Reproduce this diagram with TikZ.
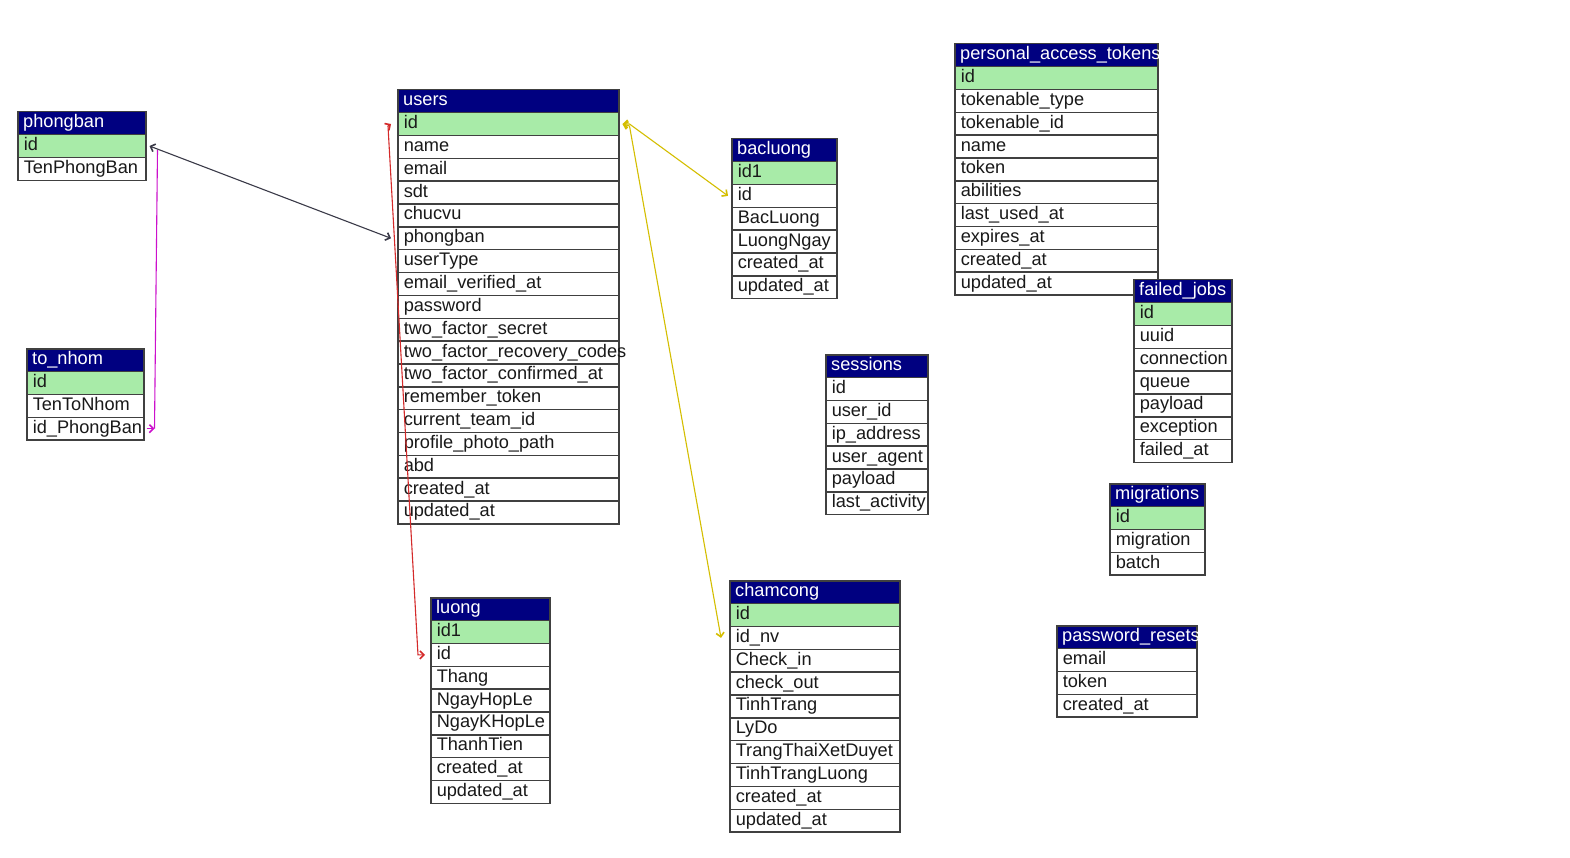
\documentclass[tikz,border=0pt]{standalone}
\usepackage{fontspec}
\setmainfont{Liberation Sans}
\usetikzlibrary{arrows.meta}
\definecolor{navyhdr}{HTML}{000080}
\definecolor{keygreen}{HTML}{A8EBA8}
\definecolor{linkyellow}{HTML}{D4BE00}
\definecolor{linkred}{HTML}{D42A2A}
\definecolor{linkmag}{HTML}{CC10CC}
\definecolor{linkdark}{HTML}{3A3A48}
\tikzset{
  hdrbox/.style={draw=black!75, line width=1.5pt, fill=navyhdr, rectangle, inner sep=0pt, minimum height=22.85pt},
  hdrtext/.style={text=white, inner xsep=6pt, inner ysep=0pt, font=\fontsize{18.2}{21}\selectfont, text height=12.5pt, text depth=3.5pt},
  rowbox/.style={draw=black!75, line width=1.5pt, rectangle, inner xsep=6pt, inner ysep=0pt, minimum height=22.85pt, align=left, font=\fontsize{18.2}{21}\selectfont, text height=12.5pt, text depth=3.5pt, text=black!90},
  tipend/.tip={Straight Barb[length=4pt,width=8pt,line width=1.6pt]},
  link/.style={line width=1.1pt, tipend-tipend},
  linkone/.style={line width=1.1pt, -tipend},
}
\newcommand\dbtable[7]{%
  \node[hdrbox, minimum width=#5pt, anchor=north west] (#1) at (#3,#4) {};
  \begin{scope}
    \clip (#1.south west) rectangle (#1.north east);
    \node[hdrtext, anchor=west] (#1-title) at (#1.west) {#2};
  \end{scope}
  \foreach \rw [count=\i] in {#7} {
    \ifnum\i>#6 \def\fc{white}\else\def\fc{keygreen}\fi
    \node[rowbox, fill=\fc, text width=#5pt-12pt, anchor=north west] (#1-\i) at (#3,{#4+\i*22.85}) {\rw};
  }
}
\begin{document}
\begin{tikzpicture}[x=1pt,y=-1pt]
\useasboundingbox[fill=white] (0,0) rectangle (1570,858);

\dbtable{phongban}{phongban}{17}{111}{128}{1}{id,TenPhongBan}
\dbtable{users}{users}{397}{89}{221}{1}{id,name,email,sdt,chucvu,phongban,userType,email\_verified\_at,password,two\_factor\_secret,two\_factor\_recovery\_codes,two\_factor\_confirmed\_at,remember\_token,current\_team\_id,profile\_photo\_path,abd,created\_at,updated\_at}
\dbtable{tonhom}{to\_nhom}{26}{348}{117}{1}{id,TenToNhom,id\_PhongBan}
\dbtable{bacluong}{bacluong}{731}{138}{105}{1}{id1,id,BacLuong,LuongNgay,created\_at,updated\_at}
\dbtable{pat}{personal\_access\_tokens}{954}{43}{203}{1}{id,tokenable\_type,tokenable\_id,name,token,abilities,last\_used\_at,expires\_at,created\_at,updated\_at}
\dbtable{failedjobs}{failed\_jobs}{1133}{279}{98}{1}{id,uuid,connection,queue,payload,exception,failed\_at}
\dbtable{sessions}{sessions}{825}{354}{102}{0}{id,user\_id,ip\_address,user\_agent,payload,last\_activity}
\dbtable{migrations}{migrations}{1109}{483}{95}{1}{id,migration,batch}
\dbtable{pwresets}{password\_resets}{1056}{625}{140}{0}{email,token,created\_at}
\dbtable{luong}{luong}{430}{597}{119}{1}{id1,id,Thang,NgayHopLe,NgayKHopLe,ThanhTien,created\_at,updated\_at}
\dbtable{chamcong}{chamcong}{729}{580}{170}{1}{id,id\_nv,Check\_in,check\_out,TinhTrang,LyDo,TrangThaiXetDuyet,TinhTrangLuong,created\_at,updated\_at}

% connectors
\draw[link, linkdark] ([xshift=3pt]phongban-1.east) -- ([xshift=-6pt]users-6.west);
\draw[linkmag, line width=1.1pt] ([xshift=11pt,yshift=-4pt]phongban-1.east) -- ([xshift=10pt]tonhom-3.east);
\draw[linkone, linkmag] ([xshift=2pt]tonhom-3.east) -- ([xshift=10pt]tonhom-3.east);
\draw[link, linkred] ([xshift=-6pt]users-1.west) -- ([xshift=-9pt,yshift=-2pt]users-1.west) -- ([xshift=-12pt]luong-2.west) -- ([xshift=-5pt]luong-2.west);
\draw[link, linkyellow] ([xshift=3pt]users-1.east) -- ([xshift=10pt]users-1.east) -- ([xshift=-3pt]bacluong-2.west);
\draw[link, linkyellow] ([xshift=3pt]users-1.east) -- ([xshift=10pt,yshift=-2pt]users-1.east) -- ([xshift=-8pt]chamcong-2.west);
\end{tikzpicture}
\end{document}
